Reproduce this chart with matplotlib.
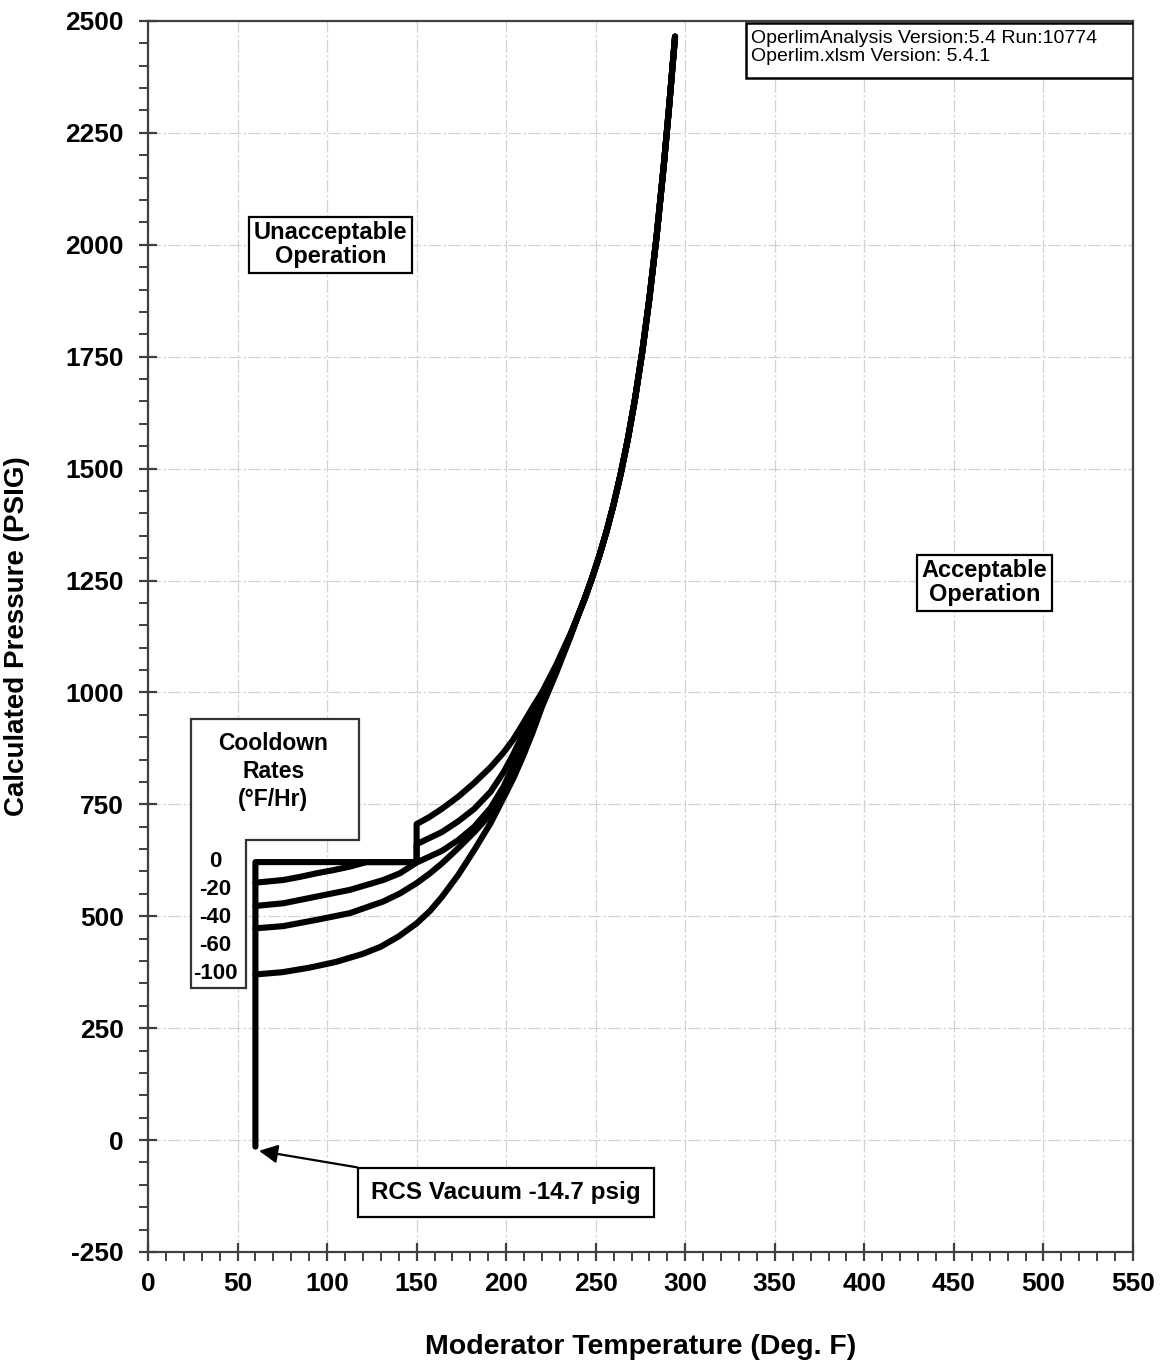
import numpy as np
import matplotlib.pyplot as plt
from matplotlib.patches import Polygon, Rectangle
from matplotlib.ticker import MultipleLocator

plt.rcParams['font.family'] = ['Liberation Sans', 'DejaVu Sans']
plt.rcParams['axes.unicode_minus'] = False

# P-T limit curves (Deg F, psig), one per cooldown rate
rates = ['0', '-20', '-40', '-60', '-100']

t_0 = [60, 60, 150, 150, 156.9, 164.1, 173.2, 182.2, 191.3, 198.6, 204, 209.4, 214.9,
       220, 228, 236]
p_0 = [-14.7, 621, 621, 706, 721, 740, 767, 798, 833, 866, 895, 930, 967,
       1000, 1062, 1132]

t_20 = [60, 75.6, 84.9, 94.2, 103.5, 112.8, 122, 150, 150, 164.1, 173.2, 182.2,
        191.3, 198.6, 204, 209.4, 214.9, 220, 228, 236]
p_20 = [575, 581, 588, 596, 603, 611, 621, 621, 661, 688, 712, 740,
        778, 822, 862, 907, 952, 993, 1057, 1129]

t_40 = [60, 75.6, 94.2, 112.8, 131.4, 140.7, 150, 164.1, 173.2, 182.2, 191.3,
        198.6, 204, 209.4, 214.9, 220, 228, 236]
p_40 = [523, 529, 544, 559, 581, 596, 620, 646, 670, 700, 742,
        790, 836, 885, 938, 985, 1053, 1128]

t_60 = [60, 75.6, 94.2, 112.8, 131.4, 140.7, 150, 157.5, 164.1, 173.2, 182.2,
        191.3, 198.6, 204, 209.4, 214.9, 220, 228, 236]
p_60 = [473, 478, 492, 507, 533, 551, 574, 596, 618, 652, 688,
        728, 770, 812, 862, 918, 972, 1048, 1127]

t_100 = [60, 75, 90, 105, 120, 130, 140, 150, 157.5, 164.1, 173.2, 182.2,
         191.3, 198.6, 204, 209.4, 214.9, 220, 228, 236]
p_100 = [370, 375, 385, 398, 416, 432, 455, 484, 512, 543, 592, 648,
         708, 765, 808, 857, 912, 968, 1044, 1126]

# upper part where all the rates fall on one line
t_tail = [240, 244, 248, 252, 256, 260, 264, 268, 272, 276, 280, 284, 288, 291, 294.3]
p_tail = [1170, 1211, 1256, 1305, 1359, 1420, 1489, 1567, 1657, 1761, 1881, 2019, 2177,
          2309, 2465]

curves = [(t_0, p_0), (t_20, p_20), (t_40, p_40), (t_60, p_60), (t_100, p_100)]

fig = plt.figure(figsize=(11.66, 13.61), dpi=100)
ax = fig.add_axes([0.1269, 0.0801, 0.8448, 0.9045])

for t, p in curves:
    ax.plot(t + t_tail, p + p_tail, color='black', lw=4.4,
            solid_capstyle='round', solid_joinstyle='round', zorder=4)

ax.set_xlim(0, 550)
ax.set_ylim(-250, 2500)
ax.xaxis.set_major_locator(MultipleLocator(50))
ax.xaxis.set_minor_locator(MultipleLocator(10))
ax.yaxis.set_major_locator(MultipleLocator(250))
ax.yaxis.set_minor_locator(MultipleLocator(50))

ax.grid(True, which='major', color='#d2d2d2', lw=0.9, linestyle=(0, (10, 2, 2, 2)))
ax.set_axisbelow(True)

for sp in ax.spines.values():
    sp.set_color('#404040')
    sp.set_linewidth(1.6)

ax.tick_params(which='major', direction='inout', length=13, width=1.6, color='#404040',
               labelsize=19)
ax.tick_params(which='minor', direction='out', length=6.5, width=1.4, color='#404040')
ax.tick_params(axis='x', which='major', pad=8)
ax.tick_params(axis='y', which='major', pad=11)
for lab in ax.get_xticklabels() + ax.get_yticklabels():
    lab.set_fontweight('bold')

ax.set_xlabel('Moderator Temperature (Deg. F)', fontsize=20.5, fontweight='bold')
ax.set_ylabel('Calculated Pressure (PSIG)', fontsize=20, fontweight='bold')
ax.xaxis.set_label_coords(0.5, -0.067)
ax.yaxis.set_label_coords(-0.12, 0.5)

box = dict(boxstyle='square,pad=0.2', fc='white', ec='black', lw=1.6)
ax.text(102, 2000, 'Unacceptable\nOperation', ha='center', va='center',
        fontsize=17, fontweight='bold', linespacing=1.05, bbox=box, zorder=5)
ax.text(467, 1245, 'Acceptable\nOperation', ha='center', va='center',
        fontsize=17, fontweight='bold', linespacing=1.05, bbox=box, zorder=5)

# L-shaped legend box for the cooldown rates
lbox = Polygon([(23.8, 941), (118, 941), (118, 670), (54.7, 670), (54.7, 339), (23.8, 339)],
               closed=True, fc='white', ec='#333333', lw=1.6, zorder=3)
ax.add_patch(lbox)
ax.text(70, 886, 'Cooldown', ha='center', va='center', fontsize=16.5, fontweight='bold', zorder=5)
ax.text(70, 823, 'Rates', ha='center', va='center', fontsize=16.5, fontweight='bold', zorder=5)
ax.text(70, 760, '(°F/Hr)', ha='center', va='center', fontsize=16.5, fontweight='bold', zorder=5)
rate_y = [622, 559, 498, 435, 371]
for r, y in zip(rates, rate_y):
    ax.text(37.5, y, r, ha='center', va='center', fontsize=16, fontweight='bold', zorder=5)

ax.annotate('RCS Vacuum -14.7 psig', xy=(62, -24), xytext=(200, -117),
            ha='center', va='center', fontsize=17.5, fontweight='bold',
            bbox=dict(boxstyle='square,pad=0.55', fc='white', ec='black', lw=1.6),
            arrowprops=dict(arrowstyle='-|>', color='black', lw=1.6, mutation_scale=28,
                            shrinkA=0, shrinkB=0),
            zorder=5)

# version stamp in the top right corner
ax.add_patch(Rectangle((0.607, 0.954), 0.393, 0.044, transform=ax.transAxes,
                       fc='white', ec='black', lw=1.8, zorder=6))
ax.text(0.612, 0.993, 'OperlimAnalysis Version:5.4 Run:10774\nOperlim.xlsm Version: 5.4.1',
        transform=ax.transAxes, ha='left', va='top', fontsize=14, linespacing=1.1, zorder=7)

fig.savefig('out.png', dpi=100, facecolor='white')
